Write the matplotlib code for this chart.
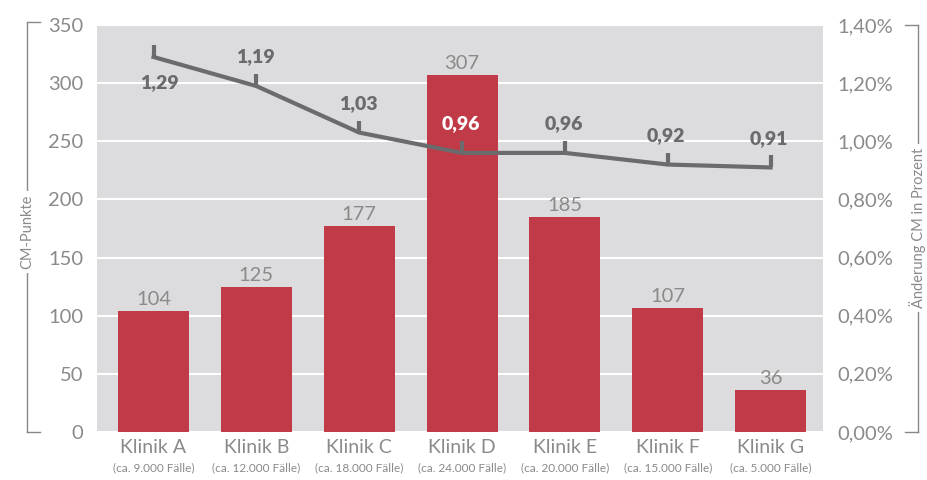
import matplotlib
matplotlib.use("Agg")
import matplotlib.pyplot as plt
from matplotlib.path import Path
from matplotlib.lines import Line2D

categories = ["Klinik A", "Klinik B", "Klinik C", "Klinik D", "Klinik E", "Klinik F", "Klinik G"]
cases = ["(ca. 9.000 Fälle)", "(ca. 12.000 Fälle)", "(ca. 18.000 Fälle)", "(ca. 24.000 Fälle)",
         "(ca. 20.000 Fälle)", "(ca. 15.000 Fälle)", "(ca. 5.000 Fälle)"]
cm_points = [104, 125, 177, 307, 185, 107, 36]
cm_change = [1.29, 1.19, 1.03, 0.96, 0.96, 0.92, 0.91]
left_ticks = [0, 50, 100, 150, 200, 250, 300, 350]
right_ticks = [0.0, 0.2, 0.4, 0.6, 0.8, 1.0, 1.2, 1.4]

plt.rcParams['font.family'] = ['Lato', 'DejaVu Sans']
BG = "#dcdcde"
RED = "#c03b47"
LINE = "#6b6b6d"
TXT = "#8a8a8a"

fig = plt.figure(figsize=(9.27, 4.8), dpi=100)
ax = fig.add_axes([97/927, 48/480, 726/927, 407/480])
ax.set_facecolor(BG)
x = list(range(len(categories)))
ax.bar(x, cm_points, width=0.69, color=RED, zorder=2)
ax.set_xlim(-0.55, 6.51)
ax.set_ylim(0, 350)
ax.set_yticks(left_ticks)
ax.set_yticklabels([str(t) for t in left_ticks], fontsize=14.5, color=TXT)
ax.yaxis.grid(True, color="white", linewidth=1.5, zorder=1)
ax.set_axisbelow(True)
ax.tick_params(axis='y', length=0, pad=10)
ax.tick_params(axis='x', length=0, pad=5)
ax.set_xticks(x)
ax.set_xticklabels(categories, fontsize=14, color=TXT)
for s in ax.spines.values():
    s.set_visible(False)
for xi, c in zip(x, cases):
    ax.annotate(c, (xi, 0), xytext=(0, -22), textcoords="offset points",
                ha="center", va="top", fontsize=8.5, color=TXT)
for xi, v in zip(x, cm_points):
    ax.annotate(str(v), (xi, v), xytext=(0, 2), textcoords="offset points",
                ha="center", va="bottom", fontsize=14.5, color=TXT)

ax2 = ax.twinx()
ax2.set_ylim(0, 1.4)
ax2.set_yticks(right_ticks)
ax2.set_yticklabels([f"{t:.2f}".replace(".", ",") + "%" for t in right_ticks], fontsize=14.5, color=TXT)
ax2.tick_params(axis='y', length=0, pad=10)
for s in ax2.spines.values():
    s.set_visible(False)
tick_marker = Path([(0, 0), (0, 1)])
ax2.plot(x, cm_change, color=LINE, linewidth=3, marker=tick_marker, markersize=18,
         markeredgewidth=3, markeredgecolor=LINE, solid_joinstyle='round', zorder=3)
for i, (xi, v) in enumerate(zip(x, cm_change)):
    lab = f"{v:.2f}".replace(".", ",")
    if i == 0:
        ax2.annotate(lab, (xi, v), xytext=(4, -12), textcoords="offset points",
                     ha="center", va="top", fontsize=14, fontweight="heavy", color=LINE)
    else:
        col = "white" if i == 3 else LINE
        ax2.annotate(lab, (xi, v), xytext=(-1, 15), textcoords="offset points",
                     ha="center", va="bottom", fontsize=14, fontweight="heavy", color=col)

def fy(p):
    return 1 - p/480
def fx(p):
    return p/927

BR = "#888888"
for seg in [((27, 27), (22, 432)), ((27, 40), (22, 22)), ((27, 40), (432, 432)),
            ((918, 918), (25, 432)), ((905, 918), (25, 25)), ((905, 918), (432, 432))]:
    fig.add_artist(Line2D([fx(seg[0][0]), fx(seg[0][1])], [fy(seg[1][0]), fy(seg[1][1])],
                          color=BR, linewidth=1))
fig.text(fx(27), fy(232), "CM-Punkte", rotation=90, ha="center", va="center", fontsize=10.5,
         color=TXT, bbox=dict(facecolor="white", edgecolor="none", pad=3))
fig.text(fx(918), fy(228), "Änderung CM in Prozent", rotation=90, ha="center", va="center",
         fontsize=10.5, color=TXT, bbox=dict(facecolor="white", edgecolor="none", pad=3))

fig.savefig("out.png", dpi=100, facecolor="white")
